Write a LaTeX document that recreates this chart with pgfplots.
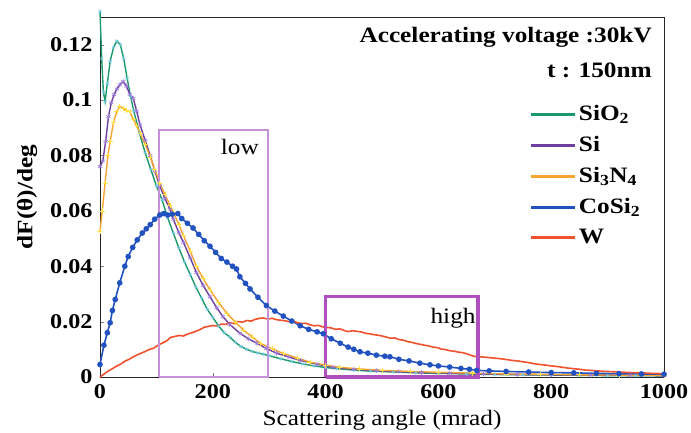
\documentclass[border=0pt]{standalone}
\usepackage{fontspec}
\setmainfont{Liberation Serif}[FakeStretch=1.15]
\usepackage{pgfplots}
\pgfplotsset{compat=1.18}
\definecolor{cgreen}{HTML}{1A9A6A}
\definecolor{cgreenm}{HTML}{70C8E0}
\definecolor{cpurple}{HTML}{6E3FA0}
\definecolor{cpurplem}{HTML}{9A7AD8}
\definecolor{corange}{HTML}{F7A530}
\definecolor{corangem}{HTML}{FFE040}
\definecolor{cblue}{HTML}{2252C0}
\definecolor{cred}{HTML}{F0522E}
\definecolor{lowbox}{HTML}{C890D8}
\definecolor{highbox}{HTML}{B050C0}
\begin{document}
\fontsize{22}{26}\selectfont
\begin{tikzpicture}
\begin{axis}[name=ax,
  scale only axis, width=564pt, height=360pt,
  xmin=0, xmax=1000, ymin=0, ymax=0.13,
  xtick={0,200,...,1000},
  ytick={0,0.02,0.04,0.06,0.08,0.1,0.12},
  yticklabels={0,0.02,0.04,0.06,0.08,0.1,0.12},
  xticklabels={0,200,400,600,800,1000},
  tick align=inside, xtick pos=bottom, ytick pos=left,
  major tick length=4pt,
  /pgf/number format/assume math mode=true,
  tick label style={font=\fontsize{21}{24}\selectfont\bfseries},
  axis line style={black!85, line width=0.8pt},
  xlabel={Scattering angle (mrad)},
  ylabel={\bfseries dF(θ)/deg},
  label style={font=\fontsize{22}{26}\selectfont},
  xlabel style={yshift=3pt},
  ylabel style={yshift=-2pt},
  clip=false,
  legend style={at={(0.762,0.762)}, anchor=north west, draw=none, fill=none,
    font=\fontsize{22}{26}\selectfont\bfseries, row sep=8.5pt, inner sep=0pt},
  legend cell align=left,
  legend image code/.code={\draw[#1, line width=3pt] (0pt,0pt) -- (44pt,0pt);},
]
% SiO2
\addplot[cgreen, line width=1.4pt, mark=asterisk, mark size=2pt, mark options={cgreenm, line width=0.5pt}] coordinates {
(0,0.132) (3,0.115) (6,0.103) (9,0.0995) (13,0.106) (18,0.114) (24,0.119) (30,0.1213) (36,0.120) (42,0.115) (48,0.108) (54,0.1015) (60,0.096) (70,0.088) (80,0.081) (90,0.075) (100,0.069) (110,0.064) (120,0.0575) (130,0.052) (140,0.0465) (150,0.0415) (160,0.037) (170,0.0325) (180,0.0285) (190,0.0245) (200,0.0215) (210,0.0185) (220,0.016) (230,0.0145) (240,0.0125) (250,0.011) (260,0.0100) (270,0.0092) (280,0.0087) (290,0.0082) (300,0.0077) (320,0.0066) (340,0.0056) (360,0.0047) (380,0.0040) (400,0.0034) (420,0.0030) (450,0.0025) (480,0.0021) (520,0.0018) (560,0.0015) (600,0.0013) (650,0.0011) (700,0.0009) (750,0.0008) (800,0.0007) (850,0.0006) (900,0.0005) (950,0.0005) (1000,0.0004)
};
\addlegendentry{SiO\textsubscript{2}}
% Si
\addplot[cpurple, line width=1.4pt, mark=asterisk, mark size=2.5pt, mark options={cpurplem, line width=0.6pt}] coordinates {
(0,0.076) (5,0.078) (10,0.085) (15,0.094) (20,0.099) (25,0.102) (30,0.104) (35,0.1055) (41,0.1067) (47,0.105) (53,0.102) (59,0.1006) (65,0.096) (71,0.091) (80,0.0855) (89,0.080) (97,0.0745) (106,0.069) (115,0.0645) (124,0.0606) (130,0.057) (140,0.052) (148,0.0486) (160,0.043) (171,0.0377) (183,0.033) (195,0.029) (207,0.025) (218,0.0218) (230,0.019) (248,0.0158) (263,0.0138) (278,0.0122) (295,0.0103) (313,0.0086) (335,0.0072) (355,0.006) (385,0.0046) (413,0.0035) (450,0.0028) (490,0.0023) (530,0.0019) (570,0.0016) (620,0.0014) (680,0.0011) (740,0.0009) (800,0.0008) (870,0.0007) (940,0.0006) (1000,0.0005)
};
\addlegendentry{Si}
% Si3N4
\addplot[corange, line width=1.4pt, mark=+, mark size=2.5pt, mark options={corangem, line width=0.6pt}] coordinates {
(0,0.0526) (4,0.060) (9,0.070) (14,0.080) (18,0.085) (24,0.092) (30,0.096) (35,0.0977) (41,0.097) (47,0.0962) (53,0.0958) (59,0.093) (65,0.0908) (71,0.088) (80,0.084) (89,0.0795) (97,0.075) (106,0.070) (115,0.066) (124,0.062) (130,0.0595) (140,0.055) (148,0.051) (160,0.0455) (171,0.040) (183,0.0355) (195,0.0315) (210,0.027) (225,0.023) (240,0.0198) (254,0.017) (270,0.0145) (284,0.0122) (305,0.0102) (325,0.0085) (350,0.0068) (372,0.0054) (400,0.0043) (425,0.0035) (460,0.0029) (500,0.0024) (550,0.0020) (600,0.0017) (660,0.0014) (720,0.0011) (780,0.0010) (850,0.0008) (920,0.0007) (1000,0.0006)
};
\addlegendentry{Si\textsubscript{3}N\textsubscript{4}}
% CoSi2
\addplot[cblue, line width=1.6pt, mark=*, mark size=2pt, mark options={cblue}] coordinates {
(0,0.0045) (7,0.0115) (13,0.016) (18,0.0196) (22,0.024) (27,0.028) (35,0.034) (44,0.040) (50,0.0435) (58,0.0468) (66,0.0495) (75,0.052) (82,0.0535) (89,0.055) (97,0.057) (106,0.0585) (113,0.0590) (120,0.0585) (128,0.0588) (138,0.0590) (145,0.0572) (155,0.0555) (165,0.0538) (175,0.0515) (185,0.0492) (195,0.0472) (205,0.0450) (215,0.0428) (225,0.0415) (235,0.0400) (242,0.0390) (248,0.0362) (258,0.0338) (266,0.0318) (280,0.0288) (295,0.0258) (310,0.0238) (325,0.0220) (340,0.0202) (355,0.0185) (370,0.0172) (385,0.0163) (396,0.0156) (410,0.0138) (426,0.0122) (440,0.0108) (450,0.0100) (461,0.0091) (475,0.0086) (490,0.0079) (505,0.0075) (514,0.0073) (530,0.0064) (548,0.0058) (567,0.0050) (585,0.0044) (600,0.0040) (620,0.0036) (640,0.0031) (655,0.0028) (668,0.0024) (690,0.0022) (720,0.0020) (760,0.0018) (800,0.0016) (840,0.0015) (880,0.0013) (920,0.0012) (960,0.0011) (1000,0.0010)
};
\addlegendentry{CoSi\textsubscript{2}}
% W
\addplot[cred, line width=1.6pt, mark=none] coordinates {
(0,0) (8,0.0012) (15,0.0022) (22,0.0030) (30,0.0040) (37,0.0047) (45,0.0058) (52,0.0064) (59,0.0073) (66,0.0080) (73,0.0086) (80,0.0092) (88,0.0100) (95,0.0104) (103,0.0115) (110,0.0122) (118,0.0130) (125,0.0143) (132,0.0146) (140,0.0150) (148,0.0148) (155,0.0155) (163,0.0160) (170,0.0165) (178,0.0172) (185,0.0180) (193,0.0183) (200,0.0186) (208,0.0184) (215,0.0191) (223,0.0190) (230,0.0196) (238,0.0193) (245,0.0200) (253,0.0198) (260,0.0204) (268,0.0202) (275,0.0208) (283,0.0212) (290,0.0213) (298,0.0209) (305,0.0212) (313,0.0207) (320,0.0205) (328,0.0203) (335,0.0200) (343,0.0202) (350,0.0196) (358,0.0193) (365,0.0194) (373,0.0188) (380,0.0185) (388,0.0186) (395,0.0181) (403,0.0179) (410,0.0177) (418,0.0172) (425,0.0174) (433,0.0168) (440,0.0164) (448,0.0167) (455,0.0165) (463,0.0163) (470,0.0158) (478,0.0156) (485,0.0153) (493,0.0151) (500,0.0148) (508,0.0144) (515,0.0140) (523,0.0141) (530,0.0135) (538,0.0133) (545,0.0128) (553,0.0125) (560,0.0121) (568,0.0118) (575,0.0115) (583,0.0112) (590,0.0108) (598,0.0106) (605,0.0101) (613,0.0099) (620,0.0095) (628,0.0093) (635,0.0090) (643,0.0088) (650,0.0084) (658,0.0078) (665,0.0074) (673,0.0073) (680,0.0072) (690,0.0070) (700,0.0068) (710,0.0066) (721,0.0063) (730,0.0060) (740,0.0058) (750,0.0055) (760,0.0052) (770,0.0048) (780,0.0045) (790,0.0043) (800,0.0040) (810,0.0038) (820,0.0035) (830,0.0032) (840,0.0030) (850,0.0028) (860,0.0025) (870,0.0024) (880,0.0022) (890,0.0021) (900,0.0020) (920,0.0018) (940,0.0016) (960,0.0015) (980,0.0013) (1000,0.0012)
};
\addlegendentry{W}
% boxes
\addplot[lowbox, line width=1.8pt, mark=none, forget plot] coordinates {(104,0) (104,0.0893) (298,0.0893) (298,0) (104,0)};
\addplot[highbox, line width=3.5pt, mark=none, forget plot] coordinates {(400,0) (400,0.029) (670,0.029) (670,0) (400,0)};
\node[font=\fontsize{22}{26}\selectfont] at (axis cs:248,0.0832) {low};
\node[font=\fontsize{22}{26}\selectfont] at (axis cs:626,0.0213) {high};
\node[anchor=east, inner sep=0pt, font=\fontsize{22}{26}\selectfont\bfseries] at (rel axis cs:0.9787,0.944) {Accelerating voltage :30kV};
\node[anchor=east, inner sep=0pt, font=\fontsize{22}{26}\selectfont\bfseries] at (rel axis cs:0.9787,0.853) {t : 150nm};
\end{axis}
\pgfresetboundingbox
\path[use as bounding box] ([shift={(-100pt,-56pt)}]ax.south west) rectangle ([shift={(27pt,17pt)}]ax.north east);
\end{tikzpicture}
\end{document}
